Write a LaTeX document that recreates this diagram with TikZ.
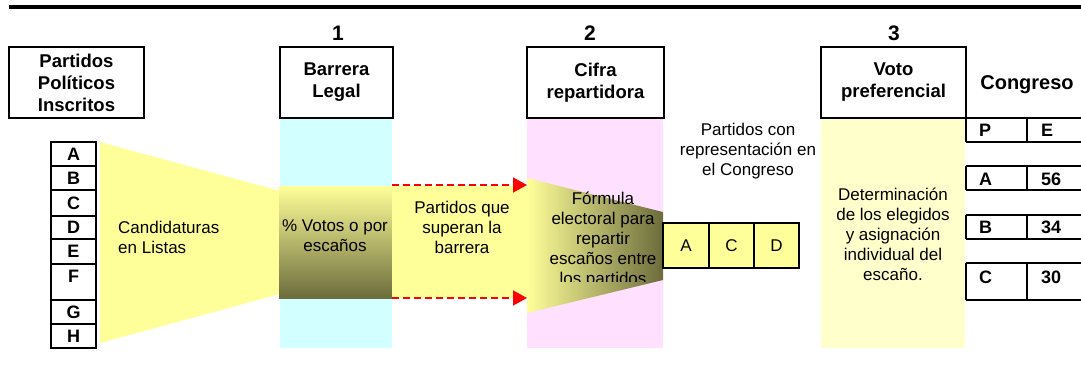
\documentclass[tikz,border=0pt]{standalone}
\usepackage{fontspec}
\setmainfont{Liberation Sans}
\usetikzlibrary{arrows.meta}
\definecolor{cyanc}{RGB}{210,255,255}
\definecolor{pinkc}{RGB}{255,224,255}
\definecolor{votoc}{RGB}{255,255,204}
\definecolor{yelc}{RGB}{255,255,153}
\definecolor{olivec}{RGB}{108,108,60}
\definecolor{midc}{RGB}{200,196,130}
\definecolor{redc}{RGB}{255,0,0}
\begin{document}
\begin{tikzpicture}[x=1pt,y=-1pt,
  hdr/.style={draw=black, line width=1.6pt, align=center, inner sep=0pt,
    font=\bfseries\fontsize{18.5}{22}\selectfont},
  numlab/.style={font=\bfseries\fontsize{21}{24}\selectfont, inner sep=0pt},
  txt/.style={align=center, inner sep=0pt, font=\fontsize{17}{20}\selectfont},
  cell/.style={draw=black, line width=1.6pt, minimum width=45pt, inner sep=0pt,
    font=\bfseries\fontsize{18}{20}\selectfont},
  tbl/.style={line width=1.6pt},
  tlab/.style={anchor=west, inner sep=0pt, font=\bfseries\fontsize{18}{20}\selectfont},
  acd/.style={draw=black, line width=1.4pt, fill=yelc, minimum width=45pt,
    minimum height=45pt, inner sep=0pt, font=\fontsize{17}{20}\selectfont},
  redarrow/.style={draw=redc, line width=1.5pt, dash pattern=on 7pt off 4pt,
    -{Triangle[length=14pt,width=15pt,fill=redc]}}
]
\useasboundingbox (0,0) rectangle (1081,368);
% top rule
\draw[line width=3.5pt] (9,7) -- (1081,7);

% columns
\fill[cyanc] (280,118) rectangle (392,348);
\fill[pinkc] (527,118) rectangle (663,348);
\fill[votoc] (821,118) rectangle (965,348);

% yellow funnel from list to barrier
\fill[yelc] (100,142) -- (280,191) -- (280,294) -- (100,343) -- cycle;
% barrier gradient block
\shade[top color=yelc, middle color=midc, bottom color=olivec] (279,186) rectangle (392,298);
% band of parties that pass
\fill[yelc] (392,186) rectangle (527,298);
% second funnel, horizontal gradient
\shade[left color=yelc, middle color=midc, right color=olivec] (527,178) -- (663,212) -- (663,280) -- (527,313) -- cycle;

% header boxes
\node[hdr, minimum width=135pt, minimum height=71pt] (pp) at (76.5,82.5) {Partidos\\Políticos\\Inscritos};
\node[hdr, minimum width=113pt, minimum height=71pt] (bl) at (336.5,82.5) {Barrera\\Legal};
\node[hdr, minimum width=137pt, minimum height=71pt] (cr) at (595.5,82.5) {Cifra\\repartidora};
\node[hdr, minimum width=145pt, minimum height=71pt] (vp) at (893.5,82.5) {Voto\\preferencial};
\node[font=\bfseries\fontsize{20}{22}\selectfont, inner sep=0pt] (cg) at (1027,85) {Congreso};

\node[numlab] (n1) at (338,33) {1};
\node[numlab] (n2) at (590,33) {2};
\node[numlab] (n3) at (894,33) {3};

% party list
\node[cell, minimum height=24pt] (cA) at (73.5,154) {A};
\node[cell, minimum height=24pt] (cB) at (73.5,178) {B};
\node[cell, minimum height=26pt] (cC) at (73.5,203) {C};
\node[cell, minimum height=23pt] (cD) at (73.5,227.5) {D};
\node[cell, minimum height=25pt] (cE) at (73.5,251.5) {E};
\node[cell, minimum height=36pt] (cF) at (73.5,282) {};
\node[tlab, anchor=center] (lF) at (73.5,276) {F};
\node[cell, minimum height=24pt] (cG) at (73.5,312) {G};
\node[cell, minimum height=24pt] (cH) at (73.5,336) {H};

% texts
\node[txt, align=left, anchor=west] (cand) at (118,237) {Candidaturas\\en Listas};
\node[txt] (votos) at (335,236) {\% Votos o por\\escaños};
\node[txt] (sup) at (462,227) {Partidos que\\superan la\\barrera};
\begin{scope}
\clip (527,170) rectangle (663,281);
\node[txt, anchor=north] (form) at (603,192) {Fórmula\\electoral para\\repartir\\escaños entre\\los partidos};
\end{scope}
\node[txt] (rep) at (748,151) {Partidos con\\representación en\\el Congreso};
\node[txt] (det) at (893,234) {Determinación\\de los elegidos\\y asignación\\individual del\\escaño.};

% arrows of passing parties
\coordinate (a1s) at (392,185);
\coordinate (a1e) at (527,185);
\coordinate (a2s) at (392,298);
\coordinate (a2e) at (527,298);
\draw[redarrow] (a1s) -- (a1e);
\draw[redarrow] (a2s) -- (a2e);

% elected parties boxes
\node[acd, minimum width=46pt] (pA) at (686,245.5) {A};
\node[acd] (pC) at (731.5,245.5) {C};
\node[acd] (pD) at (776.5,245.5) {D};

% congress table
\draw[tbl] (966,118) -- (1081,118);
\draw[tbl] (966,118) -- (966,142) (1027,118) -- (1027,142) (966,142) -- (1081,142);
\draw[tbl] (966,166) -- (1081,166) (966,166) -- (966,190) (1027,166) -- (1027,190) (966,190) -- (1081,190);
\draw[tbl] (966,215) -- (1081,215) (966,215) -- (966,239) (1027,215) -- (1027,239) (966,239) -- (1081,239);
\draw[tbl] (966,263) -- (1081,263) (966,263) -- (966,300) (1027,263) -- (1027,300) (966,300) -- (1081,300);
\node[tlab] (tP) at (979,130) {P};
\node[tlab] (tE) at (1041,130) {E};
\node[tlab] (tA) at (979,179) {A};
\node[tlab] (t56) at (1041,179) {56};
\node[tlab] (tB) at (979,227) {B};
\node[tlab] (t34) at (1041,227) {34};
\node[tlab] (tC) at (979,277) {C};
\node[tlab] (t30) at (1041,277) {30};
\end{tikzpicture}
\end{document}
